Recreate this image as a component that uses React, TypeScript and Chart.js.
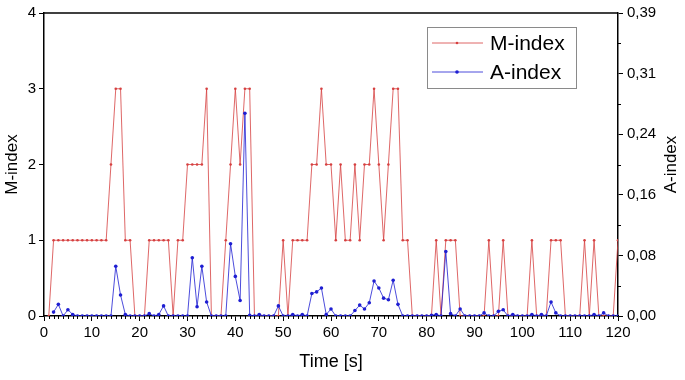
import React, { useEffect, useRef } from 'react';
import { Chart, registerables } from 'chart.js';

Chart.register(...registerables);

const times = [
  1, 2, 3, 4, 5, 6, 7, 8, 9, 10, 11, 12, 13, 14, 15, 16, 17, 18, 19, 20,
  21, 22, 23, 24, 25, 26, 27, 28, 29, 30, 31, 32, 33, 34, 35, 36, 37, 38, 39, 40,
  41, 42, 43, 44, 45, 46, 47, 48, 49, 50, 51, 52, 53, 54, 55, 56, 57, 58, 59, 60,
  61, 62, 63, 64, 65, 66, 67, 68, 69, 70, 71, 72, 73, 74, 75, 76, 77, 78, 79, 80,
  81, 82, 83, 84, 85, 86, 87, 88, 89, 90, 91, 92, 93, 94, 95, 96, 97, 98, 99, 100,
  101, 102, 103, 104, 105, 106, 107, 108, 109, 110, 111, 112, 113, 114, 115, 116, 117, 118, 119, 120,
];

const mIndex = [
  0, 1, 1, 1, 1, 1, 1, 1, 1, 1, 1, 1, 1, 2, 3, 3, 1, 1, 0, 0,
  0, 1, 1, 1, 1, 1, 0, 1, 1, 2, 2, 2, 2, 3, 0, 0, 0, 1, 2, 3,
  2, 3, 3, 0, 0, 0, 0, 0, 0, 1, 0, 1, 1, 1, 1, 2, 2, 3, 2, 2,
  1, 2, 1, 1, 2, 1, 2, 2, 3, 2, 1, 2, 3, 3, 1, 1, 0, 0, 0, 0,
  0, 1, 0, 1, 1, 1, 0, 0, 0, 0, 0, 0, 1, 0, 0, 1, 0, 0, 0, 0,
  0, 1, 0, 0, 0, 1, 1, 1, 0, 0, 0, 0, 1, 0, 1, 0, 0, 0, 0, 1,
];

const aIndex = [
  null, 0.005, 0.015, 0, 0.008, 0.002, 0, 0, 0, 0, 0, 0, 0, 0, 0.064, 0.027, 0.002, 0, 0, 0,
  0, 0.003, 0, 0.002, 0.013, 0, 0, 0, 0, 0, 0.075, 0.012, 0.064, 0.018, 0, 0, 0, 0, 0.093, 0.051,
  0.02, 0.261, 0.001, 0, 0.002, 0, 0, 0, 0.013, 0, 0, 0.002, 0, 0.002, 0, 0.029, 0.031, 0.036, 0.002, 0.009,
  0, 0, 0, 0, 0.007, 0.014, 0.009, 0.017, 0.045, 0.036, 0.023, 0.021, 0.046, 0.015, 0, 0, 0, 0, 0, 0,
  0.001, 0.002, 0, 0.083, 0.003, 0, 0.009, 0, 0, 0, 0, 0.004, 0, 0, 0.006, 0.008, 0, 0.002, 0, 0,
  0, 0.002, 0, 0.002, 0, 0.018, 0.004, 0, 0, 0, 0, 0, 0, 0, 0.002, 0, 0.004, 0, 0, 0,
];

const leftTickValues = [0, 1, 2, 3, 4];
const rightTickValues = [0, 0.078, 0.156, 0.234, 0.312, 0.39];
const rightTickLabels = ['0,00', '0,08', '0,16', '0,24', '0,31', '0,39'];
const seriesNames = ['M-index', 'A-index'];
const seriesColors = ['rgb(214, 64, 64)', 'rgb(30, 30, 210)'];
const rightTitle = 'A-index';

const FONT = '"Liberation Sans", Arial, sans-serif';

const framePlugin = {
  id: 'framePlugin',
  afterDraw(chart: any) {
    const { ctx, chartArea } = chart;
    const xs = chart.scales.x;
    const y2 = chart.scales.y2;
    ctx.save();
    ctx.strokeStyle = '#000';
    ctx.lineWidth = 1.5;
    ctx.beginPath();
    ctx.moveTo(chartArea.left, chartArea.top);
    ctx.lineTo(chartArea.right, chartArea.top);
    ctx.stroke();
    ctx.lineWidth = 1;
    ctx.beginPath();
    for (let t = 1; t < 120; t++) {
      if (t % 10 === 0) continue;
      const px = Math.round(xs.getPixelForValue(t)) + 0.5;
      ctx.moveTo(px, chartArea.bottom);
      ctx.lineTo(px, chartArea.bottom + 3);
    }
    for (let i = 0; i < rightTickValues.length - 1; i++) {
      const v = (rightTickValues[i] + rightTickValues[i + 1]) / 2;
      const py = Math.round(y2.getPixelForValue(v)) + 0.5;
      ctx.moveTo(chartArea.right, py);
      ctx.lineTo(chartArea.right + 3, py);
    }
    ctx.stroke();
    // right axis title, reading bottom-to-top
    ctx.fillStyle = '#000';
    ctx.font = `17px ${FONT}`;
    ctx.textAlign = 'center';
    ctx.textBaseline = 'middle';
    ctx.translate(chart.width - 14, (chartArea.top + chartArea.bottom) / 2);
    ctx.rotate(-Math.PI / 2);
    ctx.fillText(rightTitle, 0, 0);
    ctx.restore();
  },
};

const legendPlugin = {
  id: 'insideLegend',
  afterDraw(chart: any) {
    const { ctx, chartArea } = chart;
    const bx = chartArea.right - 191;
    const by = chartArea.top + 14;
    const bw = 149;
    const bh = 61;
    ctx.save();
    ctx.fillStyle = '#fff';
    ctx.fillRect(bx, by, bw, bh);
    ctx.strokeStyle = '#8a8a8a';
    ctx.lineWidth = 1;
    ctx.strokeRect(bx + 0.5, by + 0.5, bw, bh);
    const rows = [16, 45];
    seriesNames.forEach((name, i) => {
      const y = by + rows[i];
      ctx.strokeStyle = seriesColors[i];
      ctx.lineWidth = 0.8;
      ctx.beginPath();
      ctx.moveTo(bx + 5, y);
      ctx.lineTo(bx + 56, y);
      ctx.stroke();
      ctx.fillStyle = seriesColors[i];
      ctx.beginPath();
      ctx.arc(bx + 30, y, i === 0 ? 1.3 : 1.8, 0, Math.PI * 2);
      ctx.fill();
      ctx.fillStyle = '#000';
      ctx.font = `21px ${FONT}`;
      ctx.textBaseline = 'middle';
      ctx.textAlign = 'left';
      ctx.fillText(name, bx + 63, y + 1);
    });
    ctx.restore();
  },
};

export default function App() {
  const ref = useRef<HTMLCanvasElement | null>(null);

  useEffect(() => {
    document.body.style.margin = '0';
    if (!ref.current) return;
    Chart.defaults.font.family = FONT;
    Chart.defaults.color = '#000';
    const chart = new Chart(ref.current, {
      type: 'line',
      data: {
        datasets: [
          {
            label: seriesNames[0],
            data: times.map((t, i) => ({ x: t, y: mIndex[i] })),
            borderColor: seriesColors[0],
            backgroundColor: seriesColors[0],
            borderWidth: 0.8,
            pointRadius: 1.3,
            pointBorderWidth: 0,
            tension: 0,
            yAxisID: 'y',
            order: 1,
          },
          {
            label: seriesNames[1],
            data: times.map((t, i) => ({ x: t, y: aIndex[i] })),
            borderColor: seriesColors[1],
            backgroundColor: seriesColors[1],
            borderWidth: 0.8,
            pointRadius: 1.8,
            pointBorderWidth: 0,
            tension: 0,
            spanGaps: false,
            yAxisID: 'y2',
            order: 0,
          },
        ],
      },
      options: {
        animation: false,
        responsive: true,
        maintainAspectRatio: false,
        layout: { padding: { top: 10, left: 0, right: 0, bottom: 0 } },
        plugins: { legend: { display: false }, tooltip: { enabled: false } },
        scales: {
          x: {
            type: 'linear',
            min: 0,
            max: 120,
            afterFit: (s: any) => { s.height = 64; },
            ticks: { stepSize: 10, font: { size: 15 }, padding: 3, maxRotation: 0 },
            grid: { drawOnChartArea: false, tickLength: 5, tickColor: '#000', tickWidth: 1 },
            border: { display: true, color: '#000', width: 1.5 },
            title: { display: true, text: 'Time [s]', font: { size: 18, weight: 'normal' }, padding: { top: 0, bottom: 7 } },
          },
          y: {
            type: 'linear',
            position: 'left',
            min: 0,
            max: 4,
            afterFit: (s: any) => { s.width = 44; },
            afterBuildTicks: (s: any) => { s.ticks = leftTickValues.map((v) => ({ value: v })); },
            ticks: { font: { size: 15 }, padding: 3 },
            grid: { drawOnChartArea: false, tickLength: 5, tickColor: '#000', tickWidth: 1 },
            border: { display: true, color: '#000', width: 1.5 },
            title: { display: true, text: 'M-index', font: { size: 17, weight: 'normal' }, padding: { top: 2, bottom: 2 } },
          },
          y2: {
            type: 'linear',
            position: 'right',
            min: 0,
            max: 0.39,
            afterFit: (s: any) => { s.width = 67; },
            afterBuildTicks: (s: any) => { s.ticks = rightTickValues.map((v) => ({ value: v })); },
            ticks: {
              font: { size: 15 },
              padding: 4,
              callback: (_v: any, i: number) => rightTickLabels[i],
            },
            grid: { drawOnChartArea: false, tickLength: 5, tickColor: '#000', tickWidth: 1 },
            border: { display: true, color: '#000', width: 1.5 },
            title: { display: false },
          },
        },
      },
      plugins: [framePlugin, legendPlugin],
    });
    return () => chart.destroy();
  }, []);

  return (
    <div style={{ position: 'absolute', left: 0, top: 0, width: 685, height: 380 }}>
      <canvas ref={ref} />
    </div>
  );
}
